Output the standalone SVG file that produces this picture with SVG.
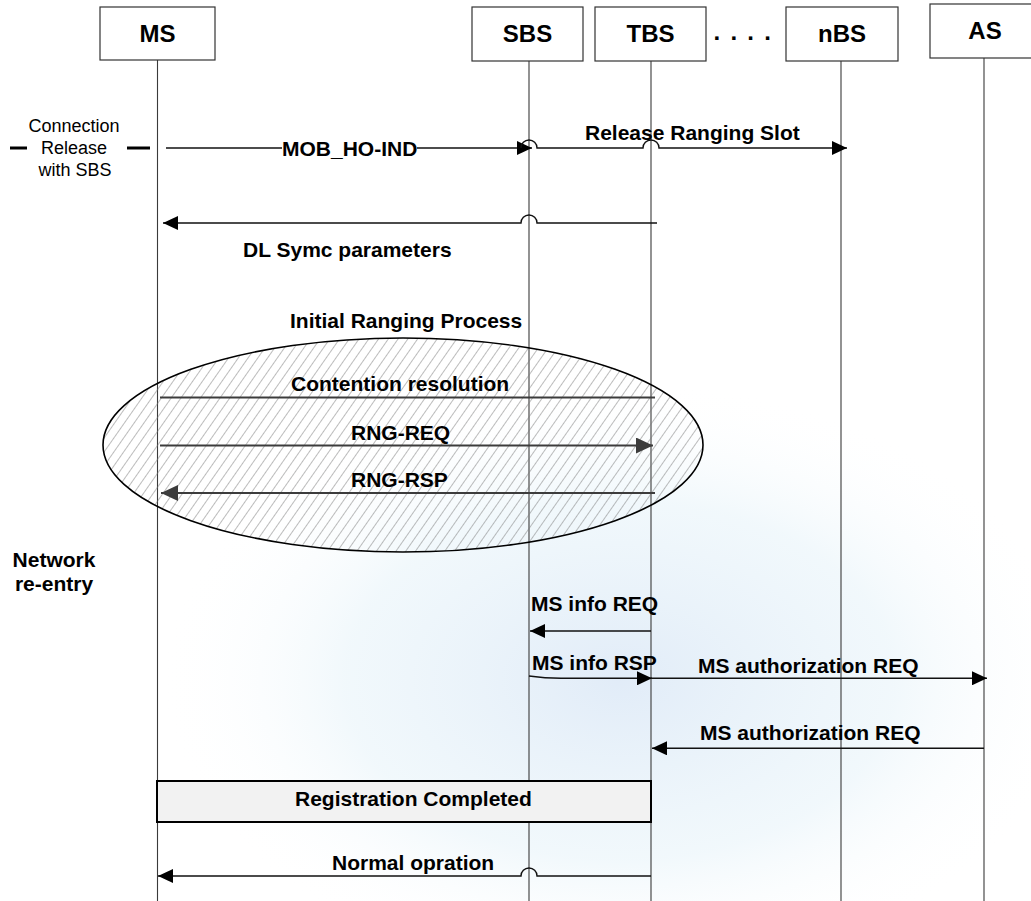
<svg xmlns="http://www.w3.org/2000/svg" width="1031" height="901" viewBox="0 0 1031 901">
<style>
  .box{fill:#fff;stroke:#333;stroke-width:1.2}
  .lbl{font-family:"Liberation Sans",Arial,sans-serif;font-weight:bold;font-size:24px;fill:#000;text-anchor:middle}
  .msg{font-family:"Liberation Sans",Arial,sans-serif;font-weight:bold;font-size:21px;fill:#000}
  .note{font-family:"Liberation Sans",Arial,sans-serif;font-size:18px;fill:#000;text-anchor:middle}
  .life{stroke:#3a3a3a;stroke-width:1.1;fill:none}
  .arr{stroke:#111;stroke-width:1.4;fill:none;marker-end:url(#ah)}
  .gline{stroke:#3c3c3c;stroke-width:2;fill:none}
  .garr{stroke:#3c3c3c;stroke-width:2;fill:none;marker-end:url(#gh)}
</style>
<defs>
  <marker id="ah" markerUnits="userSpaceOnUse" markerWidth="16" markerHeight="14" refX="15" refY="7" orient="auto">
    <path d="M0,0 L15,7 L0,14 z" fill="#000"/>
  </marker>
  <marker id="gh" markerUnits="userSpaceOnUse" markerWidth="18" markerHeight="16" refX="17" refY="8" orient="auto">
    <path d="M0,0 L17,8 L0,16 z" fill="#3c3c3c"/>
  </marker>
  <pattern id="hatch" patternUnits="userSpaceOnUse" width="8" height="8" patternTransform="rotate(35)">
    <line x1="0" y1="0" x2="0" y2="8" stroke="#7a7a7a" stroke-width="1"/>
  </pattern>
  <radialGradient id="wm" cx="0.5" cy="0.5" r="0.5">
    <stop offset="0" stop-color="#c9dcf2" stop-opacity="0.55"/>
    <stop offset="0.6" stop-color="#d8ecf6" stop-opacity="0.35"/>
    <stop offset="1" stop-color="#ffffff" stop-opacity="0"/>
  </radialGradient>
</defs>
<rect x="0" y="0" width="1031" height="901" fill="#fff"/>
<ellipse cx="620" cy="680" rx="460" ry="300" fill="url(#wm)"/>

<g id="lifelines">
  <line class="life" x1="157.5" y1="60" x2="157.5" y2="901"/>
  <line class="life" x1="529" y1="61" x2="529" y2="901"/>
  <line class="life" x1="651" y1="61" x2="651" y2="901"/>
  <line class="life" x1="841" y1="61" x2="841" y2="901"/>
  <line class="life" x1="984" y1="58" x2="984" y2="901"/>
</g>

<g id="node-MS"><rect class="box" x="100" y="7" width="115" height="53"/><text class="lbl" x="157.5" y="42">MS</text></g>
<g id="node-SBS"><rect class="box" x="472" y="7" width="111" height="54"/><text class="lbl" x="527.5" y="42">SBS</text></g>
<g id="node-TBS"><rect class="box" x="595" y="7" width="111" height="54"/><text class="lbl" x="650.5" y="42">TBS</text></g>
<g id="dots"><text x="713.5" y="40" style="font-family:'Liberation Sans',Arial,sans-serif;font-weight:bold;font-size:24px;letter-spacing:1.8px">. . . .</text></g>
<g id="node-nBS"><rect class="box" x="786" y="7" width="112" height="54"/><text class="lbl" x="842" y="42">nBS</text></g>
<g id="node-AS"><rect class="box" x="930" y="4" width="110" height="54"/><text class="lbl" x="985" y="39">AS</text></g>

<g id="connection-release">
  <line x1="10" y1="148" x2="27" y2="148" stroke="#000" stroke-width="3"/>
  <line x1="127" y1="148" x2="150" y2="148" stroke="#000" stroke-width="3"/>
  <text class="note" x="74" y="132">Connection</text>
  <text class="note" x="74" y="154">Release</text>
  <text class="note" x="75" y="176">with SBS</text>
</g>

<g id="network-reentry">
  <text class="msg" x="54" y="567" text-anchor="middle">Network</text>
  <text class="msg" x="54" y="591" text-anchor="middle">re-entry</text>
</g>

<g id="ranging-ellipse">
  <ellipse cx="403" cy="445" rx="300" ry="107" fill="url(#hatch)" stroke="#000" stroke-width="1.6"/>
</g>

<g id="connectors">
  <line x1="166" y1="148" x2="282" y2="148" stroke="#111" stroke-width="1.4"/>
  <line class="arr" x1="417" y1="148" x2="532" y2="148"/>
  <path class="arr" d="M521,148 A8,8 0 0 1 537,148 H643 A8,8 0 0 1 659,148 H847"/>
  <path class="arr" d="M657,223 H537 A8,8 0 0 0 521,223 H163"/>
  <line class="gline" x1="160" y1="397.5" x2="655" y2="397.5"/>
  <line class="garr" x1="160" y1="445.5" x2="653" y2="445.5"/>
  <line class="garr" x1="655" y1="493" x2="161" y2="493"/>
  <line class="arr" x1="651" y1="631" x2="530" y2="631"/>
  <path class="arr" d="M529,676 Q545,678.3 561,678.3 H652"/>
  <line class="arr" x1="651" y1="678.3" x2="987" y2="678.3"/>
  <line class="arr" x1="984" y1="748.3" x2="652" y2="748.3"/>
  <path class="arr" d="M651,876 H537 A8,8 0 0 0 521,876 H158"/>
</g>

<g id="labels">
  <text class="msg" x="282" y="156">MOB_HO-IND</text>
  <text class="msg" x="585" y="140">Release Ranging Slot</text>
  <text class="msg" x="243" y="257">DL Symc parameters</text>
  <text class="msg" x="290" y="328">Initial Ranging Process</text>
  <text class="msg" x="291" y="391">Contention resolution</text>
  <text class="msg" x="351" y="440">RNG-REQ</text>
  <text class="msg" x="351" y="487">RNG-RSP</text>
  <text class="msg" x="531" y="611">MS info REQ</text>
  <text class="msg" x="532" y="670">MS info RSP</text>
  <text class="msg" x="698" y="673">MS authorization REQ</text>
  <text class="msg" x="700" y="740">MS authorization REQ</text>
  <text class="msg" x="332" y="870">Normal opration</text>
</g>

<g id="registration-completed">
  <rect x="157" y="781" width="494" height="41" fill="#f2f2f2" stroke="#000" stroke-width="2"/>
  <text class="msg" x="295" y="806">Registration Completed</text>
</g>
</svg>
